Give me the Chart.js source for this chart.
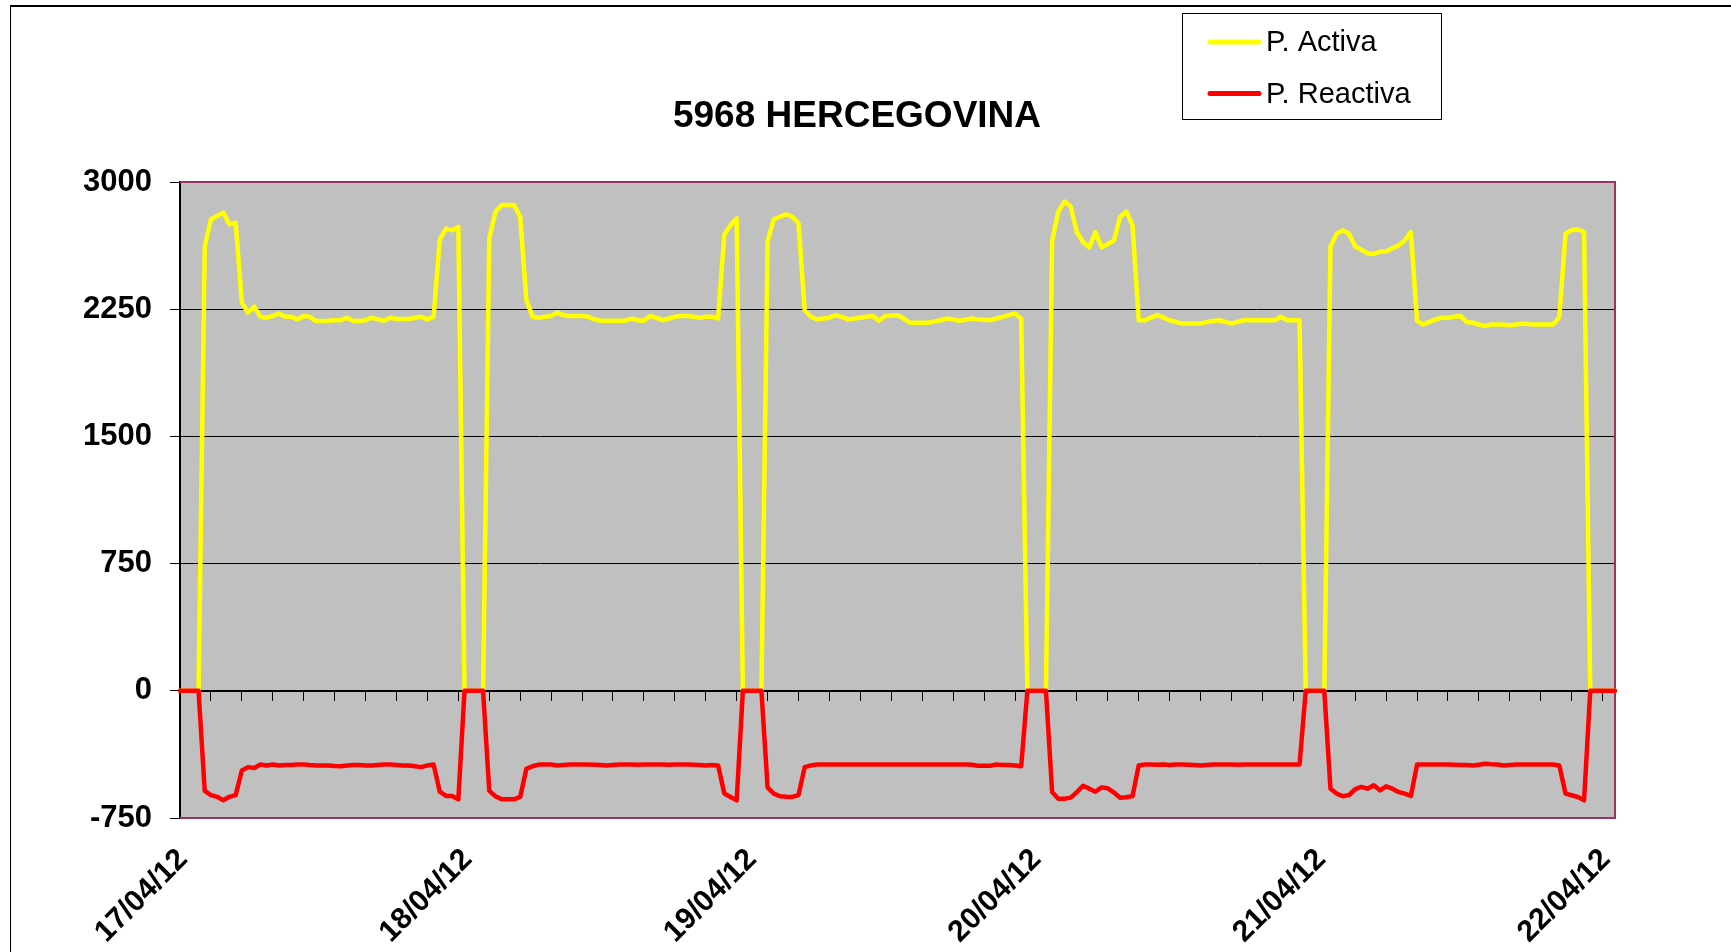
<!DOCTYPE html>
<html>
<head>
<meta charset="utf-8">
<script src="https://cdn.jsdelivr.net/npm/chart.js@4.4.0/dist/chart.umd.min.js"></script>
<style>
  html, body { margin: 0; padding: 0; background: #fff; }
  #contenedor { width: 1731px; height: 952px; position: relative; }
</style>
</head>
<body>
<div id="contenedor"><canvas id="grafica"></canvas></div>
<script>
// fechas del eje x, una etiqueta cada 46 lecturas
const titulo = '5968 HERCEGOVINA';
const fechas = ['17/04/12', '18/04/12', '19/04/12', '20/04/12', '21/04/12', '22/04/12'];
const lecturasPorEtiqueta = 46;
const marcaCada = 5;
const ticksY = [-750, 0, 750, 1500, 2250, 3000];

// P. Activa (233 lecturas)
const activa = [
    0, 0, 0, 0, 2620, 2780, 2800, 2820, 2750, 2760,
    2290, 2230, 2265, 2205, 2200, 2210, 2225, 2205, 2205, 2190,
    2210, 2205, 2180, 2180, 2182, 2185, 2185, 2200, 2180, 2180,
    2185, 2200, 2190, 2182, 2200, 2192, 2192, 2192, 2200, 2205,
    2190, 2205, 2660, 2725, 2715, 2735, 0, 0, 0, 0,
    2665, 2825, 2865, 2865, 2865, 2795, 2305, 2205, 2200, 2205,
    2210, 2230, 2215, 2210, 2210, 2210, 2205, 2190, 2182, 2182,
    2182, 2182, 2182, 2195, 2185, 2182, 2210, 2200, 2185, 2195,
    2205, 2210, 2210, 2205, 2200, 2205, 2205, 2195, 2690, 2745,
    2785, 0, 0, 0, 0, 2650, 2780, 2795, 2810, 2795,
    2755, 2245, 2205, 2190, 2195, 2200, 2215, 2205, 2190, 2195,
    2200, 2205, 2210, 2182, 2210, 2212, 2215, 2195, 2170, 2170,
    2170, 2170, 2178, 2185, 2195, 2190, 2182, 2188, 2195, 2190,
    2188, 2185, 2195, 2205, 2215, 2225, 2195, 0, 0, 0,
    0, 2655, 2825, 2885, 2855, 2705, 2645, 2615, 2705, 2615,
    2635, 2655, 2795, 2825, 2745, 2185, 2185, 2200, 2215, 2200,
    2185, 2175, 2165, 2165, 2165, 2165, 2175, 2180, 2185, 2175,
    2165, 2175, 2185, 2185, 2185, 2185, 2185, 2185, 2205, 2185,
    2185, 2185, 0, 0, 0, 0, 2620, 2695, 2715, 2695,
    2620, 2600, 2580, 2575, 2590, 2590, 2610, 2625, 2655, 2705,
    2180, 2160, 2175, 2190, 2200, 2200, 2205, 2210, 2175, 2170,
    2160, 2150, 2160, 2160, 2158, 2155, 2160, 2165, 2162, 2160,
    2160, 2160, 2160, 2205, 2695, 2715, 2720, 2705, 0, 0,
    0, 0, 0
];

// P. Reactiva (233 lecturas)
const reactiva = [
    0, 0, 0, 0, -590, -615, -625, -645, -625, -615,
    -470, -450, -455, -435, -440, -435, -440, -438, -437, -435,
    -435, -438, -440, -440, -440, -443, -445, -440, -437, -437,
    -440, -440, -437, -435, -435, -437, -440, -440, -445, -450,
    -440, -435, -595, -620, -620, -640, 0, 0, 0, 0,
    -590, -622, -640, -640, -640, -626, -460, -445, -435, -435,
    -435, -440, -437, -435, -435, -435, -435, -436, -437, -440,
    -437, -435, -435, -435, -436, -435, -435, -435, -435, -436,
    -435, -435, -435, -436, -437, -440, -438, -440, -606, -626,
    -646, 0, 0, 0, 0, -570, -606, -622, -625, -626,
    -615, -450, -440, -435, -435, -435, -435, -435, -435, -435,
    -435, -435, -435, -435, -435, -435, -435, -435, -435, -435,
    -435, -435, -435, -435, -435, -435, -435, -435, -436, -442,
    -442, -442, -435, -437, -438, -440, -445, 0, 0, 0,
    0, -597, -636, -636, -630, -597, -560, -577, -595, -570,
    -575, -600, -630, -628, -620, -440, -435, -435, -436, -435,
    -438, -435, -435, -436, -437, -440, -437, -435, -435, -435,
    -435, -436, -435, -435, -435, -435, -435, -435, -435, -435,
    -435, -435, 0, 0, 0, 0, -577, -606, -622, -615,
    -580, -567, -577, -557, -587, -563, -577, -597, -606, -620,
    -435, -435, -435, -435, -435, -435, -436, -437, -438, -440,
    -436, -430, -433, -435, -440, -437, -435, -435, -435, -435,
    -435, -435, -435, -440, -606, -616, -626, -646, 0, 0,
    0, 0, 0
];

// etiquetas de categoria: solo la fecha en cada cambio de dia
const categorias = activa.map((v, i) => i % lecturasPorEtiqueta === 0 ? fechas[i / lecturasPorEtiqueta] : '');

Chart.defaults.font.family = '"Liberation Sans", Arial, sans-serif';
Chart.defaults.color = '#000';

//--------------------------------------------------
// fondo gris, marco morado y recuadro exterior
const fondo = {
    id: 'fondo',
    beforeDraw(chart) {
        const {ctx, chartArea: {left, top, right, bottom}} = chart;
        ctx.save();
        ctx.fillStyle = '#000';
        ctx.fillRect(10, 5, chart.width - 10, 2);
        ctx.fillRect(10, 5, 1, chart.height - 5);
        ctx.fillStyle = '#C0C0C0';
        ctx.fillRect(left, top, right - left, bottom - top);
        ctx.restore();
    },
    beforeDatasetsDraw(chart) {
        const {ctx, chartArea: {left, top, right, bottom}} = chart;
        ctx.save();
        ctx.strokeStyle = '#993366';
        ctx.lineWidth = 2;
        ctx.beginPath();
        ctx.moveTo(left, top);
        ctx.lineTo(right, top);
        ctx.lineTo(right, bottom);
        ctx.lineTo(left, bottom);
        ctx.stroke();
        ctx.restore();
    }
};

// titulo y leyenda con recuadro, arriba a la derecha
const rotulos = {
    id: 'rotulos',
    afterDraw(chart) {
        const ctx = chart.ctx;
        ctx.save();
        ctx.fillStyle = '#000';
        ctx.font = 'bold 37px "Liberation Sans", Arial, sans-serif';
        ctx.textAlign = 'center';
        ctx.textBaseline = 'middle';
        ctx.fillText(titulo, 857, 117);

        ctx.textAlign = 'left';
        ctx.strokeStyle = '#000';
        ctx.lineWidth = 1;
        ctx.strokeRect(1182.5, 13.5, 259, 106);
        ctx.font = '29px "Liberation Sans", Arial, sans-serif';
        chart.data.datasets.forEach((ds, i) => {
            const y = 42 + i * 51.5;
            ctx.strokeStyle = ds.borderColor;
            ctx.lineWidth = 5;
            ctx.lineCap = 'round';
            ctx.beginPath();
            ctx.moveTo(1210, y);
            ctx.lineTo(1259, y);
            ctx.stroke();
            ctx.fillStyle = '#000';
            ctx.fillText(ds.label, 1266, y + 1);
        });
        ctx.restore();
    }
};
//--------------------------------------------------

const datos = {
    labels: categorias,
    datasets: [
        {
            label: 'P. Activa',
            data: activa,
            borderColor: '#FFFF00',
            borderWidth: 4.5,
            pointRadius: 0,
            tension: 0,
            borderJoinStyle: 'round',
            borderCapStyle: 'round',
            order: 1
        },
        {
            label: 'P. Reactiva',
            data: reactiva,
            borderColor: '#FF0000',
            borderWidth: 4.5,
            pointRadius: 0,
            tension: 0,
            borderJoinStyle: 'round',
            borderCapStyle: 'round',
            order: 0
        }
    ]
};

const opciones = {
    responsive: true,
    maintainAspectRatio: false,
    animation: false,
    events: [],
    layout: { padding: { top: 182, left: 0, right: 116, bottom: 0 } },
    plugins: {
        legend: { display: false },
        tooltip: { enabled: false },
        title: { display: false }
    },
    scales: {
        x: {
            type: 'category',
            offset: false,
            afterBuildTicks: s => { s.ticks = s.ticks.filter(t => t.value % lecturasPorEtiqueta === 0); },
            afterFit: s => { s.height = 134; },
            border: { display: false },
            grid: { display: false, drawTicks: false },
            ticks: {
                autoSkip: false,
                minRotation: 45,
                maxRotation: 45,
                padding: 24,
                labelOffset: 3,
                color: '#000',
                font: { size: 30, weight: 'bold' }
            }
        },
        // eje en el cero con las marcas pequeñas
        x2: {
            type: 'category',
            offset: false,
            position: { y: 0 },
            afterBuildTicks: s => { s.ticks = s.ticks.filter(t => t.value % marcaCada === 0); },
            border: { display: true, color: '#000', width: 2 },
            grid: { drawOnChartArea: false, drawTicks: true, tickLength: 9, color: '#000', lineWidth: 1 },
            ticks: { display: false, autoSkip: false }
        },
        y: {
            min: ticksY[0],
            max: ticksY[ticksY.length - 1],
            afterBuildTicks: s => { s.ticks = ticksY.map(v => ({ value: v })); },
            afterFit: s => { s.width = 180; },
            border: { display: true, color: '#000', width: 2 },
            grid: {
                color: c => (c.tick && [750, 1500, 2250].includes(c.tick.value)) ? '#000' : 'rgba(0,0,0,0)',
                lineWidth: 1,
                tickColor: '#000',
                tickLength: 10,
                drawTicks: true
            },
            ticks: {
                color: '#000',
                padding: 18,
                font: { size: 31, weight: 'bold' },
                callback: v => String(v)
            }
        }
    }
};

const miGrafica = new Chart(document.getElementById('grafica'), {
    type: 'line',
    data: datos,
    options: opciones,
    plugins: [fondo, rotulos]
});
</script>
</body>
</html>
